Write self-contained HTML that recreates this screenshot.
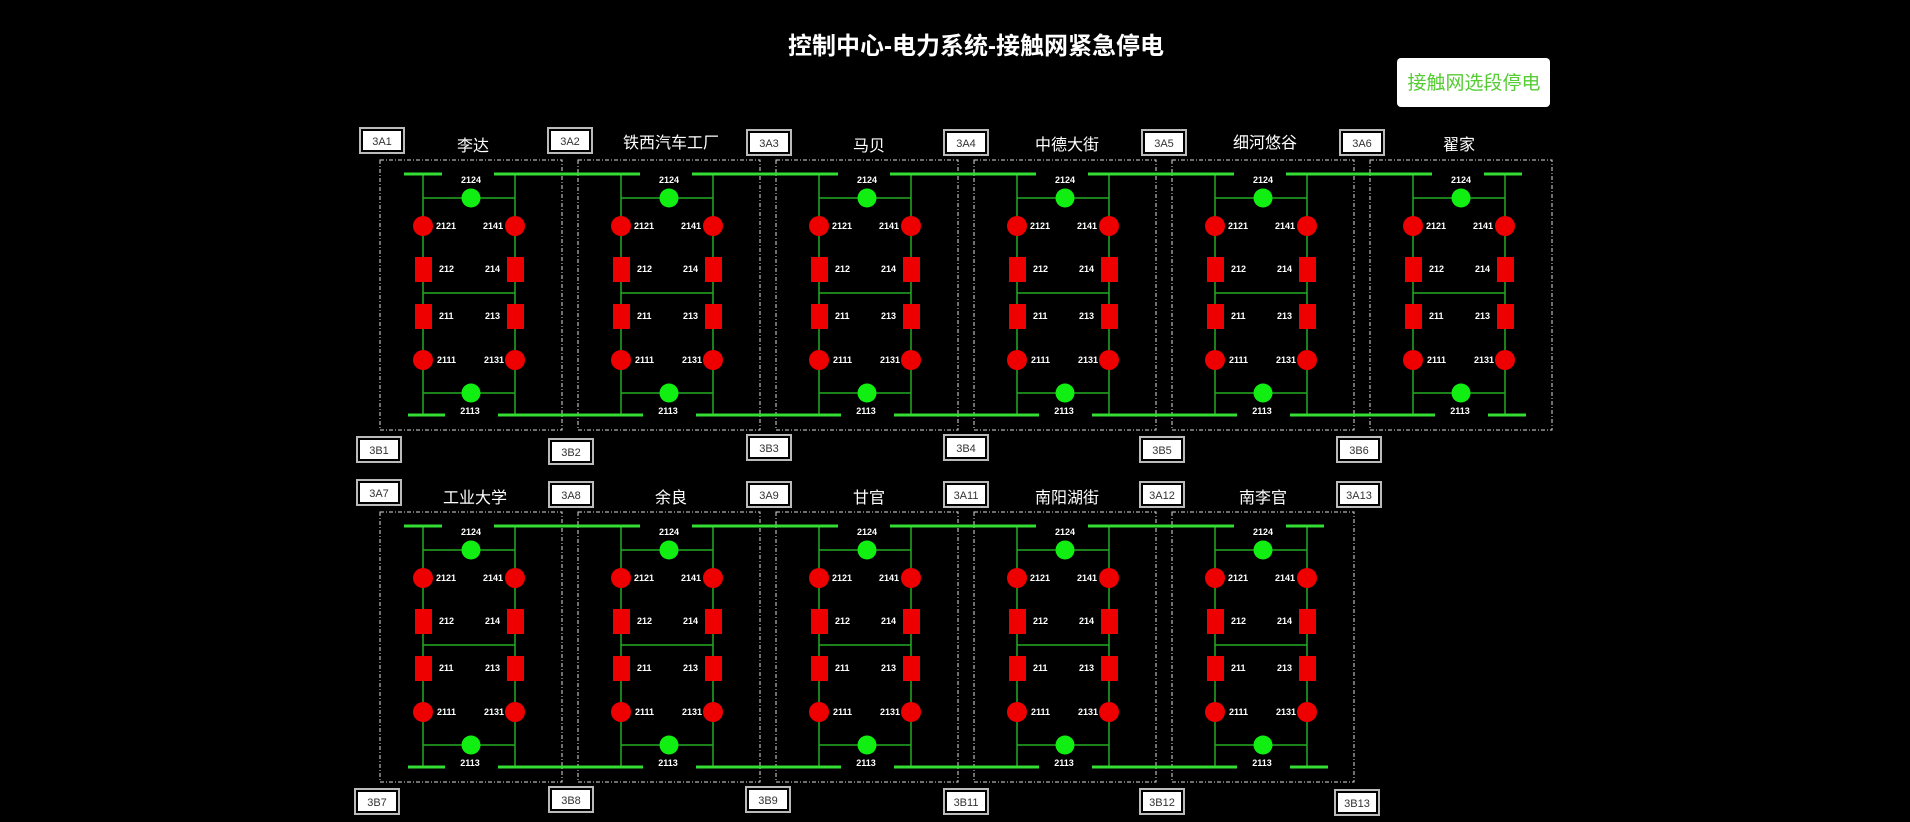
<!DOCTYPE html>
<html><head><meta charset="utf-8"><style>
html,body{margin:0;padding:0;background:#000;width:1910px;height:822px;overflow:hidden}
svg{display:block}
.t{font-family:"Liberation Sans","Noto Sans CJK SC",sans-serif;fill:#fff}
.l{font-family:"Liberation Sans",sans-serif;font-size:9px;font-weight:bold;fill:#fff}
.n{font-family:"Noto Sans CJK SC","WenQuanYi Zen Hei",sans-serif;font-size:16px;fill:#fff;text-anchor:middle}
.b{font-family:"Liberation Sans",sans-serif;font-size:11px;fill:#333;text-anchor:middle}
.bus{stroke:#33dd33;stroke-width:3}
</style></head><body>
<svg width="1910" height="822" viewBox="0 0 1910 822" xmlns="http://www.w3.org/2000/svg">
<defs>
<g id="c">
<rect x="380" y="160" width="182" height="270" fill="none" stroke="#ddd" stroke-width="1" stroke-dasharray="4,2,1,2"/>
<g stroke="#22aa22" stroke-width="1.5" fill="none">
<line x1="423" y1="174" x2="423" y2="415"/><line x1="515" y1="174" x2="515" y2="415"/>
<line x1="423" y1="198" x2="515" y2="198"/><line x1="423" y1="293" x2="515" y2="293"/><line x1="423" y1="393" x2="515" y2="393"/>
</g>
<circle cx="471" cy="198" r="9.5" fill="#11ee11"/><circle cx="471" cy="393" r="9.5" fill="#11ee11"/>
<g fill="#ee0000"><circle cx="423" cy="226" r="10"/><circle cx="515" cy="226" r="10"/><circle cx="423" cy="360" r="10"/><circle cx="515" cy="360" r="10"/>
<rect x="415" y="257" width="17" height="25"/><rect x="507" y="257" width="17" height="25"/><rect x="415" y="304" width="17" height="25"/><rect x="507" y="304" width="17" height="25"/></g>
</g>
<g id="bx"><rect x="0" y="0" width="44" height="25" fill="none" stroke="#bbb" stroke-width="2"/><rect x="3" y="3" width="38" height="19" fill="#fff"/></g>
</defs>

<text class="t" x="976" y="54" font-size="24" font-weight="bold" text-anchor="middle" font-family="Noto Sans CJK SC,sans-serif">控制中心-电力系统-接触网紧急停电</text>
<rect x="1397" y="58" width="153" height="49" rx="4" fill="#fff"/>
<text x="1474" y="89" font-size="19" fill="#55cc33" text-anchor="middle" font-family="Noto Sans CJK SC,sans-serif">接触网选段停电</text>

<use href="#c"/><use href="#c" transform="translate(198,0)"/><use href="#c" transform="translate(396,0)"/><use href="#c" transform="translate(594,0)"/><use href="#c" transform="translate(792,0)"/><use href="#c" transform="translate(990,0)"/>
<use href="#c" transform="translate(0,352)"/><use href="#c" transform="translate(198,352)"/><use href="#c" transform="translate(396,352)"/><use href="#c" transform="translate(594,352)"/><use href="#c" transform="translate(792,352)"/>

<g class="bus">
<line x1="404" y1="174" x2="442" y2="174"/><line x1="408" y1="415" x2="445" y2="415"/>
<line x1="494" y1="174" x2="640" y2="174"/><line x1="692" y1="174" x2="838" y2="174"/><line x1="890" y1="174" x2="1036" y2="174"/><line x1="1088" y1="174" x2="1234" y2="174"/><line x1="1286" y1="174" x2="1432" y2="174"/><line x1="1484" y1="174" x2="1522" y2="174"/>
<line x1="498" y1="415" x2="643" y2="415"/><line x1="696" y1="415" x2="841" y2="415"/><line x1="894" y1="415" x2="1039" y2="415"/><line x1="1092" y1="415" x2="1237" y2="415"/><line x1="1290" y1="415" x2="1435" y2="415"/><line x1="1488" y1="415" x2="1526" y2="415"/>
<line x1="404" y1="526" x2="442" y2="526"/><line x1="408" y1="767" x2="445" y2="767"/>
<line x1="494" y1="526" x2="640" y2="526"/><line x1="692" y1="526" x2="838" y2="526"/><line x1="890" y1="526" x2="1036" y2="526"/><line x1="1088" y1="526" x2="1234" y2="526"/><line x1="1286" y1="526" x2="1324" y2="526"/>
<line x1="498" y1="767" x2="643" y2="767"/><line x1="696" y1="767" x2="841" y2="767"/><line x1="894" y1="767" x2="1039" y2="767"/><line x1="1092" y1="767" x2="1237" y2="767"/><line x1="1290" y1="767" x2="1328" y2="767"/>
</g>

<g>
<text class="l" x="471" y="183" text-anchor="middle">2124</text>
<text class="l" x="436" y="229">2121</text><text class="l" x="503" y="229" text-anchor="end">2141</text>
<text class="l" x="439" y="272">212</text><text class="l" x="500" y="272" text-anchor="end">214</text>
<text class="l" x="439" y="319">211</text><text class="l" x="500" y="319" text-anchor="end">213</text>
<text class="l" x="437" y="363">2111</text><text class="l" x="504" y="363" text-anchor="end">2131</text>
<text class="l" x="470" y="414" text-anchor="middle">2113</text>
</g>
<g transform="translate(198,0)"><text class="l" x="471" y="183" text-anchor="middle">2124</text><text class="l" x="436" y="229">2121</text><text class="l" x="503" y="229" text-anchor="end">2141</text><text class="l" x="439" y="272">212</text><text class="l" x="500" y="272" text-anchor="end">214</text><text class="l" x="439" y="319">211</text><text class="l" x="500" y="319" text-anchor="end">213</text><text class="l" x="437" y="363">2111</text><text class="l" x="504" y="363" text-anchor="end">2131</text><text class="l" x="470" y="414" text-anchor="middle">2113</text></g>
<g transform="translate(396,0)"><text class="l" x="471" y="183" text-anchor="middle">2124</text><text class="l" x="436" y="229">2121</text><text class="l" x="503" y="229" text-anchor="end">2141</text><text class="l" x="439" y="272">212</text><text class="l" x="500" y="272" text-anchor="end">214</text><text class="l" x="439" y="319">211</text><text class="l" x="500" y="319" text-anchor="end">213</text><text class="l" x="437" y="363">2111</text><text class="l" x="504" y="363" text-anchor="end">2131</text><text class="l" x="470" y="414" text-anchor="middle">2113</text></g>
<g transform="translate(594,0)"><text class="l" x="471" y="183" text-anchor="middle">2124</text><text class="l" x="436" y="229">2121</text><text class="l" x="503" y="229" text-anchor="end">2141</text><text class="l" x="439" y="272">212</text><text class="l" x="500" y="272" text-anchor="end">214</text><text class="l" x="439" y="319">211</text><text class="l" x="500" y="319" text-anchor="end">213</text><text class="l" x="437" y="363">2111</text><text class="l" x="504" y="363" text-anchor="end">2131</text><text class="l" x="470" y="414" text-anchor="middle">2113</text></g>
<g transform="translate(792,0)"><text class="l" x="471" y="183" text-anchor="middle">2124</text><text class="l" x="436" y="229">2121</text><text class="l" x="503" y="229" text-anchor="end">2141</text><text class="l" x="439" y="272">212</text><text class="l" x="500" y="272" text-anchor="end">214</text><text class="l" x="439" y="319">211</text><text class="l" x="500" y="319" text-anchor="end">213</text><text class="l" x="437" y="363">2111</text><text class="l" x="504" y="363" text-anchor="end">2131</text><text class="l" x="470" y="414" text-anchor="middle">2113</text></g>
<g transform="translate(990,0)"><text class="l" x="471" y="183" text-anchor="middle">2124</text><text class="l" x="436" y="229">2121</text><text class="l" x="503" y="229" text-anchor="end">2141</text><text class="l" x="439" y="272">212</text><text class="l" x="500" y="272" text-anchor="end">214</text><text class="l" x="439" y="319">211</text><text class="l" x="500" y="319" text-anchor="end">213</text><text class="l" x="437" y="363">2111</text><text class="l" x="504" y="363" text-anchor="end">2131</text><text class="l" x="470" y="414" text-anchor="middle">2113</text></g>
<g transform="translate(0,352)"><text class="l" x="471" y="183" text-anchor="middle">2124</text><text class="l" x="436" y="229">2121</text><text class="l" x="503" y="229" text-anchor="end">2141</text><text class="l" x="439" y="272">212</text><text class="l" x="500" y="272" text-anchor="end">214</text><text class="l" x="439" y="319">211</text><text class="l" x="500" y="319" text-anchor="end">213</text><text class="l" x="437" y="363">2111</text><text class="l" x="504" y="363" text-anchor="end">2131</text><text class="l" x="470" y="414" text-anchor="middle">2113</text></g>
<g transform="translate(198,352)"><text class="l" x="471" y="183" text-anchor="middle">2124</text><text class="l" x="436" y="229">2121</text><text class="l" x="503" y="229" text-anchor="end">2141</text><text class="l" x="439" y="272">212</text><text class="l" x="500" y="272" text-anchor="end">214</text><text class="l" x="439" y="319">211</text><text class="l" x="500" y="319" text-anchor="end">213</text><text class="l" x="437" y="363">2111</text><text class="l" x="504" y="363" text-anchor="end">2131</text><text class="l" x="470" y="414" text-anchor="middle">2113</text></g>
<g transform="translate(396,352)"><text class="l" x="471" y="183" text-anchor="middle">2124</text><text class="l" x="436" y="229">2121</text><text class="l" x="503" y="229" text-anchor="end">2141</text><text class="l" x="439" y="272">212</text><text class="l" x="500" y="272" text-anchor="end">214</text><text class="l" x="439" y="319">211</text><text class="l" x="500" y="319" text-anchor="end">213</text><text class="l" x="437" y="363">2111</text><text class="l" x="504" y="363" text-anchor="end">2131</text><text class="l" x="470" y="414" text-anchor="middle">2113</text></g>
<g transform="translate(594,352)"><text class="l" x="471" y="183" text-anchor="middle">2124</text><text class="l" x="436" y="229">2121</text><text class="l" x="503" y="229" text-anchor="end">2141</text><text class="l" x="439" y="272">212</text><text class="l" x="500" y="272" text-anchor="end">214</text><text class="l" x="439" y="319">211</text><text class="l" x="500" y="319" text-anchor="end">213</text><text class="l" x="437" y="363">2111</text><text class="l" x="504" y="363" text-anchor="end">2131</text><text class="l" x="470" y="414" text-anchor="middle">2113</text></g>
<g transform="translate(792,352)"><text class="l" x="471" y="183" text-anchor="middle">2124</text><text class="l" x="436" y="229">2121</text><text class="l" x="503" y="229" text-anchor="end">2141</text><text class="l" x="439" y="272">212</text><text class="l" x="500" y="272" text-anchor="end">214</text><text class="l" x="439" y="319">211</text><text class="l" x="500" y="319" text-anchor="end">213</text><text class="l" x="437" y="363">2111</text><text class="l" x="504" y="363" text-anchor="end">2131</text><text class="l" x="470" y="414" text-anchor="middle">2113</text></g>

<text class="n" x="473" y="151">李达</text><text class="n" x="671" y="148">铁西汽车工厂</text><text class="n" x="869" y="151">马贝</text><text class="n" x="1067" y="150">中德大街</text><text class="n" x="1265" y="148">细河悠谷</text><text class="n" x="1459" y="150">翟家</text>
<text class="n" x="475" y="503">工业大学</text><text class="n" x="671" y="503">余良</text><text class="n" x="869" y="503">甘官</text><text class="n" x="1067" y="503">南阳湖街</text><text class="n" x="1263" y="503">南李官</text>

<use href="#bx" x="360" y="128"/><text class="b" x="382" y="145">3A1</text>
<use href="#bx" x="548" y="128"/><text class="b" x="570" y="145">3A2</text>
<use href="#bx" x="747" y="130"/><text class="b" x="769" y="147">3A3</text>
<use href="#bx" x="944" y="130"/><text class="b" x="966" y="147">3A4</text>
<use href="#bx" x="1142" y="130"/><text class="b" x="1164" y="147">3A5</text>
<use href="#bx" x="1340" y="130"/><text class="b" x="1362" y="147">3A6</text>
<use href="#bx" x="357" y="437"/><text class="b" x="379" y="454">3B1</text>
<use href="#bx" x="549" y="439"/><text class="b" x="571" y="456">3B2</text>
<use href="#bx" x="747" y="435"/><text class="b" x="769" y="452">3B3</text>
<use href="#bx" x="944" y="435"/><text class="b" x="966" y="452">3B4</text>
<use href="#bx" x="1140" y="437"/><text class="b" x="1162" y="454">3B5</text>
<use href="#bx" x="1337" y="437"/><text class="b" x="1359" y="454">3B6</text>
<use href="#bx" x="357" y="480"/><text class="b" x="379" y="497">3A7</text>
<use href="#bx" x="549" y="482"/><text class="b" x="571" y="499">3A8</text>
<use href="#bx" x="747" y="482"/><text class="b" x="769" y="499">3A9</text>
<use href="#bx" x="944" y="482"/><text class="b" x="966" y="499">3A11</text>
<use href="#bx" x="1140" y="482"/><text class="b" x="1162" y="499">3A12</text>
<use href="#bx" x="1337" y="482"/><text class="b" x="1359" y="499">3A13</text>
<use href="#bx" x="355" y="789"/><text class="b" x="377" y="806">3B7</text>
<use href="#bx" x="549" y="787"/><text class="b" x="571" y="804">3B8</text>
<use href="#bx" x="746" y="787"/><text class="b" x="768" y="804">3B9</text>
<use href="#bx" x="944" y="789"/><text class="b" x="966" y="806">3B11</text>
<use href="#bx" x="1140" y="789"/><text class="b" x="1162" y="806">3B12</text>
<use href="#bx" x="1335" y="790"/><text class="b" x="1357" y="807">3B13</text>
</svg>
</body></html>
